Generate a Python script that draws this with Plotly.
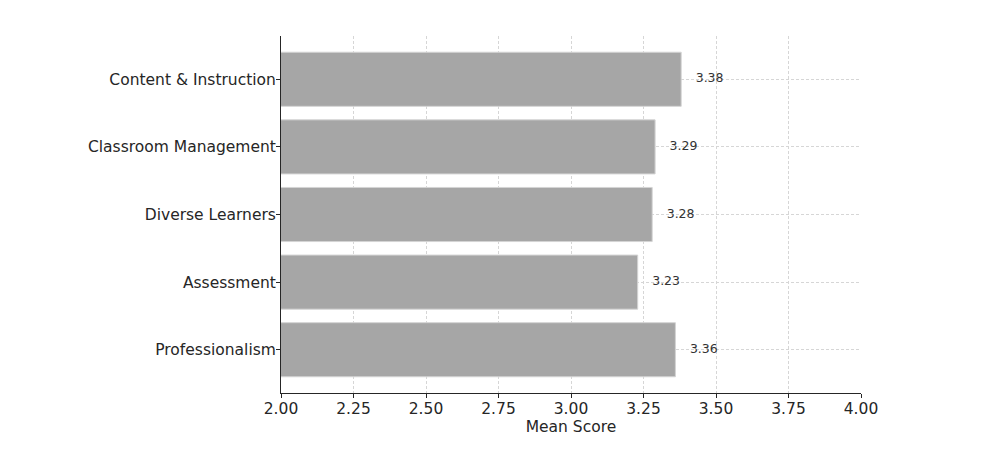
import plotly.graph_objects as go

# categories listed top to bottom, as shown
domains = ["Content & Instruction", "Classroom Management", "Diverse Learners",
           "Assessment", "Professionalism"]
mean_scores = [3.38, 3.29, 3.28, 3.23, 3.36]
score_labels = ["3.38", "3.29", "3.28", "3.23", "3.36"]
x_ticks = [2.00, 2.25, 2.50, 2.75, 3.00, 3.25, 3.50, 3.75, 4.00]

font = "DejaVu Sans"

fig = go.Figure()
fig.add_trace(go.Bar(x=mean_scores, y=domains, orientation="h",
                     width=0.8,
                     marker=dict(color="#a6a6a6",
                                 line=dict(color="#d4d4d4", width=1)),
                     hoverinfo="skip", showlegend=False))
# value labels just to the right of each bar
fig.add_trace(go.Scatter(x=[v + 0.05 for v in mean_scores], y=domains,
                         mode="text", text=score_labels,
                         textposition="middle right",
                         textfont=dict(family=font, size=12.5, color="#333333"),
                         hoverinfo="skip", showlegend=False, cliponaxis=False))

fig.update_xaxes(range=[2.0, 4.0], tickvals=x_ticks,
                 ticktext=["%.2f" % t for t in x_ticks],
                 title_text="Mean Score",
                 title_font=dict(family=font, size=15.5, color="#262626"),
                 tickfont=dict(family=font, size=15.5, color="#262626"),
                 showline=True, linecolor="#262626", linewidth=1,
                 ticks="outside", ticklen=4, tickcolor="#262626",
                 ticklabelstandoff=-3,
                 showgrid=True, gridcolor="#d6d6d6", griddash="3px,2px",
                 gridwidth=0.6, zeroline=False, title_standoff=2)
fig.update_yaxes(range=[4.64, -0.64],
                 tickfont=dict(family=font, size=15.5, color="#262626"),
                 showline=True, linecolor="#262626", linewidth=1,
                 ticks="outside", ticklen=4, tickcolor="#262626",
                 ticklabelstandoff=-3,
                 showgrid=True, gridcolor="#d6d6d6", griddash="3px,2px",
                 gridwidth=0.6, zeroline=False)
fig.update_layout(width=982, height=451,
                  margin=dict(l=273, r=129, t=28, b=66),
                  plot_bgcolor="white", paper_bgcolor="white",
                  font=dict(family=font), bargap=0.2)
fig.write_html("out.html")
